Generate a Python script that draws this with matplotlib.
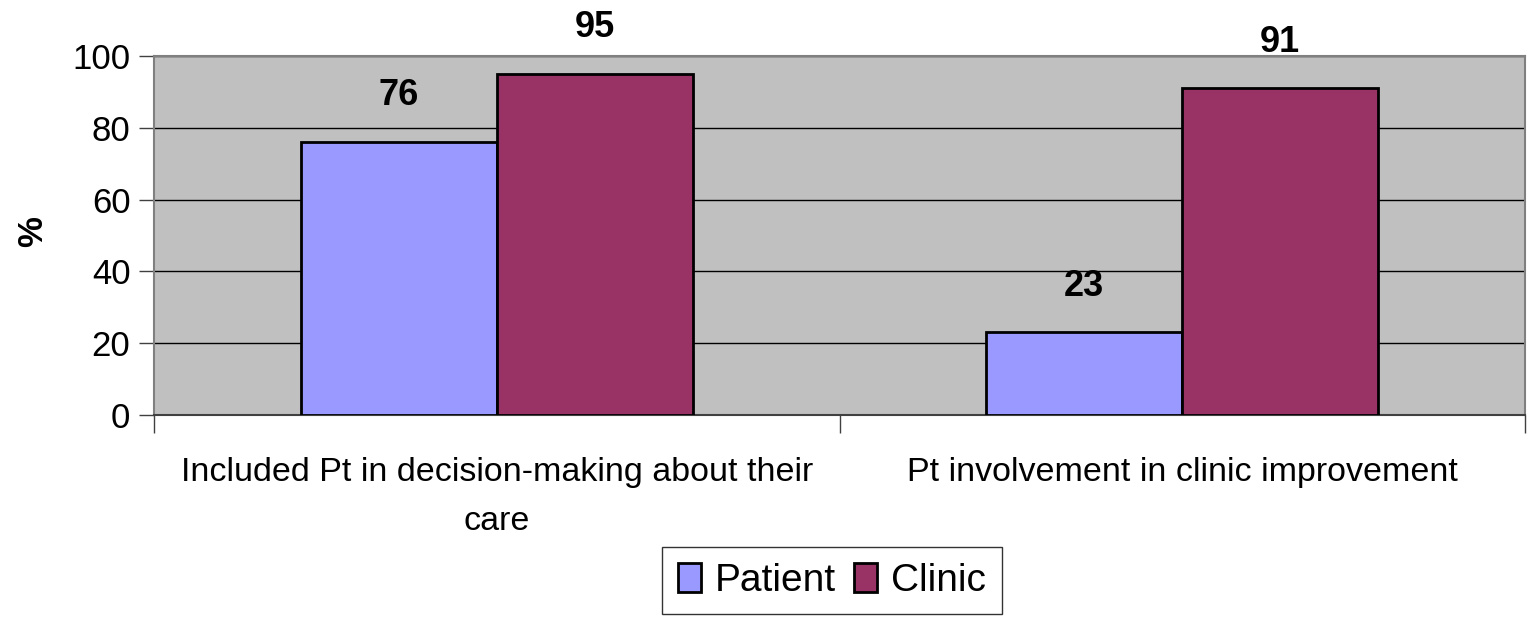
import matplotlib.pyplot as plt
import numpy as np

categories = ['Included Pt in decision-making about their\ncare',
              'Pt involvement in clinic improvement']
patient = [76, 23]
clinic = [95, 91]
series_names = ['Patient', 'Clinic']

plt.rcParams['font.family'] = ['Liberation Sans', 'DejaVu Sans']

fig = plt.figure(figsize=(15.3, 6.22), dpi=100)
ax = fig.add_axes([0.1007, 0.3328, 0.896, 0.5772])
ax.set_facecolor('#C0C0C0')

x = np.arange(len(categories))
w = 0.286
b1 = ax.bar(x - w / 2, patient, w, color='#9999FF', edgecolor='black', linewidth=2, label=series_names[0], zorder=3)
b2 = ax.bar(x + w / 2, clinic, w, color='#993366', edgecolor='black', linewidth=2, label=series_names[1], zorder=3)

for bars in (b1, b2):
    for r in bars:
        ax.text(r.get_x() + r.get_width() / 2, r.get_height() + 8, f'{r.get_height():.0f}',
                ha='center', va='bottom', fontsize=26, fontweight='bold')

ax.set_xlim(-0.5, 1.5)
ax.set_ylim(0, 100)
ax.set_yticks(range(0, 101, 20))
ax.yaxis.grid(True, color='black', linewidth=1, zorder=1)
ax.tick_params(axis='y', labelsize=25, length=11, width=1, color='#404040', direction='out', pad=6)

ax.set_xticks(x)
ax.set_xticklabels(categories, fontsize=24.5, linespacing=1.75)
ax.tick_params(axis='x', which='major', length=0, pad=30)
ax.set_xticks([-0.5, 0.5, 1.5], minor=True)
ax.tick_params(axis='x', which='minor', length=13, width=1, color='#404040')

for s in ('top', 'right', 'left'):
    ax.spines[s].set_color('#808080')
    ax.spines[s].set_linewidth(1.5)
ax.spines['bottom'].set_color('#404040')
ax.spines['bottom'].set_linewidth(1.5)

fig.text(33 / 1530, 1 - 232 / 622, '%', rotation=90, ha='center', va='center',
         fontsize=25, fontweight='bold')

leg = fig.legend(loc='upper center', bbox_to_anchor=(832 / 1530, 1 - 547 / 622), ncol=2,
                 fontsize=28, frameon=True, fancybox=False, edgecolor='black',
                 handlelength=0.6, handleheight=0.77, handletextpad=0.36, columnspacing=0.45,
                 borderpad=0.4, borderaxespad=0)
leg.get_frame().set_linewidth(1)

fig.savefig('out.png', dpi=100)
